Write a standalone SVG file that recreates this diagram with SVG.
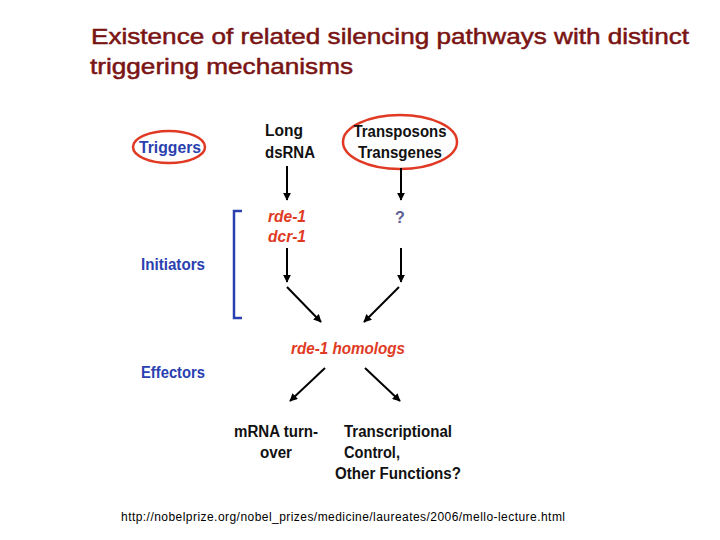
<svg xmlns="http://www.w3.org/2000/svg" width="720" height="540" viewBox="0 0 720 540">
<defs>
<marker id="ah" viewBox="0 0 10 10" refX="9" refY="5" markerWidth="4" markerHeight="4" orient="auto"><path d="M0,0 L10,5 L0,10 z" fill="#000"/></marker>
<style>
.t{font-family:"Liberation Sans",Arial,sans-serif;font-weight:bold;font-size:16px;text-anchor:middle}
.k{fill:#111}.b{fill:#2a3fb0}.r{fill:#e03a24;font-style:italic}
.e{fill:none;stroke:#e03a24;stroke-width:2.5}
.a{stroke:#000;stroke-width:2;marker-end:url(#ah)}
</style>
</defs>
<rect width="720" height="540" fill="#fff"/>
<g id="title" font-family="Liberation Sans,Arial,sans-serif" font-size="22" fill="#7a1414" stroke="#7a1414" stroke-width="0.5">
<text x="91" y="44" textLength="598" lengthAdjust="spacingAndGlyphs">Existence of related silencing pathways with distinct</text>
<text x="90" y="74" textLength="263" lengthAdjust="spacingAndGlyphs">triggering mechanisms</text>
</g>
<g id="triggers"><ellipse class="e" cx="169" cy="147" rx="36" ry="16"/><text class="t b" x="170" y="153" textLength="62" lengthAdjust="spacingAndGlyphs">Triggers</text></g>
<g id="dsrna"><text class="t k" x="284" y="136" textLength="38" lengthAdjust="spacingAndGlyphs">Long</text><text class="t k" x="290" y="158" textLength="50" lengthAdjust="spacingAndGlyphs">dsRNA</text></g>
<g id="transposons"><ellipse class="e" cx="400" cy="142" rx="57" ry="27"/><text class="t k" x="400" y="137" textLength="93" lengthAdjust="spacingAndGlyphs">Transposons</text><text class="t k" x="400" y="158" textLength="84" lengthAdjust="spacingAndGlyphs">Transgenes</text></g>
<g id="rde1"><text class="t r" x="287" y="222" textLength="38" lengthAdjust="spacingAndGlyphs">rde-1</text><text class="t r" x="287" y="242" textLength="38" lengthAdjust="spacingAndGlyphs">dcr-1</text></g>
<g id="q"><text class="t" x="400" y="223" fill="#5a6090">?</text></g>
<g id="initiators"><text class="t b" x="173" y="270" textLength="64" lengthAdjust="spacingAndGlyphs">Initiators</text><path d="M242,211 H234 V318 H242" fill="none" stroke="#2a3fb0" stroke-width="2.5"/></g>
<g id="homologs"><text class="t r" x="348" y="354" textLength="114" lengthAdjust="spacingAndGlyphs">rde-1 homologs</text></g>
<g id="effectors"><text class="t b" x="173" y="378" textLength="64" lengthAdjust="spacingAndGlyphs">Effectors</text></g>
<g id="mrna"><text class="t k" x="276" y="437" textLength="84" lengthAdjust="spacingAndGlyphs">mRNA turn-</text><text class="t k" x="276" y="458" textLength="32" lengthAdjust="spacingAndGlyphs">over</text></g>
<g id="transcr"><text class="t k" x="398" y="437" textLength="108" lengthAdjust="spacingAndGlyphs">Transcriptional</text><text class="t k" x="372" y="458" textLength="56" lengthAdjust="spacingAndGlyphs">Control,</text><text class="t k" x="398" y="479" textLength="126" lengthAdjust="spacingAndGlyphs">Other Functions?</text></g>
<g id="connectors">
<line class="a" x1="287" y1="166" x2="287" y2="200"/>
<line class="a" x1="401" y1="168" x2="401" y2="200"/>
<line class="a" x1="287" y1="248" x2="287" y2="282"/>
<line class="a" x1="401" y1="248" x2="401" y2="282"/>
<line class="a" x1="287" y1="287" x2="321" y2="322"/>
<line class="a" x1="399" y1="287" x2="364" y2="322"/>
<line class="a" x1="325" y1="368" x2="290" y2="401"/>
<line class="a" x1="365" y1="368" x2="400" y2="401"/>
</g>
<text x="121" y="521" textLength="444" font-family="Liberation Sans,Arial,sans-serif" font-size="12" fill="#000">http://nobelprize.org/nobel_prizes/medicine/laureates/2006/mello-lecture.html</text>
</svg>
